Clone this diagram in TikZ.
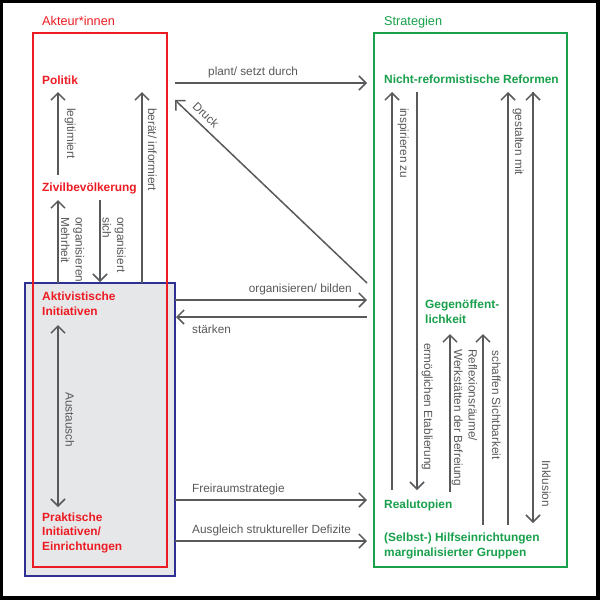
\documentclass[tikz,border=0pt]{standalone}
\usepackage{fontspec}
\setmainfont{Liberation Sans}
\usetikzlibrary{arrows.meta}

\definecolor{akteurrot}{RGB}{237,28,36}
\definecolor{strategiegruen}{RGB}{24,160,75}
\definecolor{initblau}{RGB}{46,49,146}
\definecolor{pfeilgrau}{RGB}{88,89,91}
\definecolor{flaeche}{RGB}{230,231,232}

\begin{document}
\begin{tikzpicture}
		[x=1pt,y=-1pt,>={Straight Barb[length=7pt,width=14pt]},
		akteur/.style={anchor=base west,inner sep=0pt,align=left,text=akteurrot,font=\fontsize{11.9}{14.5}\selectfont\bfseries},
		strategie/.style={akteur,text=strategiegruen},
		titel/.style={anchor=base west,inner sep=0pt,font=\fontsize{12.7}{14.5}\selectfont},
		beschriftung/.style={anchor=base west,inner sep=0pt,align=left,text=pfeilgrau,font=\fontsize{11.8}{14.5}\selectfont},
		senkrecht/.style={beschriftung,rotate=-90},
		pfeil/.style={draw=pfeilgrau,line width=1.5pt}]
		\useasboundingbox (0,0) rectangle (600,600);
		\fill[black] (0,0) rectangle (600,600);
		\fill[white] (3,3) rectangle (596,596);
		
		% Rahmen
		\draw[initblau,line width=1.5pt,fill=flaeche] (25,283) rectangle (175,576);
		\draw[akteurrot,line width=1.8pt] (33,33) rectangle (167,567);
		\draw[strategiegruen,line width=1.8pt] (374,33) rectangle (567,567);
		
		\node [titel,text=akteurrot] (akteure) at (42,25) {Akteur*innen};
		\node [titel,text=strategiegruen] (strategien) at (384,25) {Strategien};
		
		\node [akteur] (politik) at (42,84) {Politik};
		\node [akteur] (zivil) at (42,191) {Zivilbevölkerung};
		\node [akteur] (aktiv) at (42,315) {Aktivistische\\Initiativen};
		\node [akteur] (praktisch) at (42,550) {Praktische\\Initiativen/\\Einrichtungen};
		
		\node [strategie] (reformen) at (384,83) {Nicht-reformistische Reformen};
		\node [strategie] (gegen) at (425,323) {Gegenöffent-\\lichkeit};
		\node [strategie] (realutopien) at (384,508) {Realutopien};
		\node [strategie] (hilfe) at (384,556) {(Selbst-) Hilfseinrichtungen\\marginalisierter Gruppen};
		
		% Pfeilenden
		\coordinate (legA) at (58,175);
		\coordinate (legE) at (58,92);
		\coordinate (berA) at (142,283);
		\coordinate (berE) at (142,92);
		\coordinate (mehrA) at (58,283);
		\coordinate (mehrE) at (58,200);
		\coordinate (sichA) at (100,200);
		\coordinate (sichE) at (100,282);
		\coordinate (plantA) at (175,83);
		\coordinate (plantE) at (367,83);
		\coordinate (druckA) at (367,283);
		\coordinate (druckE) at (175,100);
		\coordinate (bildA) at (175,300);
		\coordinate (bildE) at (367,300);
		\coordinate (staerkA) at (367,317);
		\coordinate (staerkE) at (176,317);
		\coordinate (freiA) at (175,500);
		\coordinate (freiE) at (367,500);
		\coordinate (ausglA) at (175,541);
		\coordinate (ausglE) at (367,541);
		\coordinate (tauschA) at (58,325);
		\coordinate (tauschE) at (58,507);
		\coordinate (inspA) at (392,490);
		\coordinate (inspE) at (392,92);
		\coordinate (etabA) at (417,92);
		\coordinate (etabE) at (417,490);
		\coordinate (reflA) at (450,492);
		\coordinate (reflE) at (450,334);
		\coordinate (sichtA) at (483,525);
		\coordinate (sichtE) at (483,334);
		\coordinate (gestA) at (508,525);
		\coordinate (gestE) at (508,92);
		\coordinate (inklA) at (533,92);
		\coordinate (inklE) at (533,523);
		
		\path[pfeil,->]
		(legA) edge (legE)
		(berA) edge (berE)
		(mehrA) edge (mehrE)
		(sichA) edge (sichE)
		(tauschA) edge[<->] (tauschE)
		
		(plantA) edge (plantE)
		(druckA) edge (druckE)
		(bildA) edge (bildE)
		(staerkA) edge (staerkE)
		(freiA) edge (freiE)
		(ausglA) edge (ausglE)
		
		(inspA) edge (inspE)
		(etabA) edge (etabE)
		(reflA) edge (reflE)
		(sichtA) edge (sichtE)
		(gestA) edge (gestE)
		(inklA) edge (inklE)
		;
		
		% Beschriftungen
		\node [senkrecht] (legitimiert) at (67,108) {legitimiert};
		\node [senkrecht] (beraet) at (148,108) {berät/ informiert};
		\node [senkrecht] (mehrheit) at (61,217) {organisieren\\Mehrheit};
		\node [senkrecht] (sich) at (102.5,217) {organisiert\\sich};
		\node [senkrecht] (austausch) at (65.5,392) {Austausch};
		
		\node [beschriftung] (plant) at (208,75) {plant/ setzt durch};
		\node [beschriftung,rotate=-43.6,anchor=base] (druck) at (203,118) {Druck};
		\node [beschriftung,anchor=base east] (bilden) at (352,292) {organisieren/ bilden};
		\node [beschriftung] (staerken) at (192,333) {stärken};
		\node [beschriftung] (frei) at (192,492) {Freiraumstrategie};
		\node [beschriftung] (ausgleich) at (192,533) {Ausgleich struktureller Defizite};
		
		\node [senkrecht] (inspirieren) at (400,108) {inspirieren zu};
		\node [senkrecht] (etablierung) at (424,343) {ermöglichen Etablierung};
		\node [senkrecht] (befreiung) at (454,349) {Reflexionsräume/\\Werkstätten der Befreiung};
		\node [senkrecht] (sichtbar) at (492,350) {schaffen Sichtbarkeit};
		\node [senkrecht] (gestalten) at (515,108) {gestalten mit};
		\node [senkrecht] (inklusion) at (542,460) {Inklusion};
		
\end{tikzpicture}
\end{document}
